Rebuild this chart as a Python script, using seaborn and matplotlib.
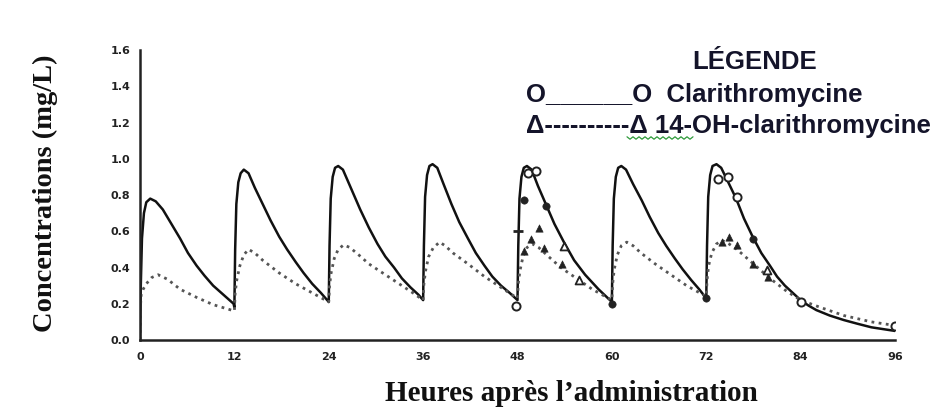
import numpy as np
import pandas as pd
import matplotlib
matplotlib.use("Agg")
import matplotlib.pyplot as plt
from matplotlib.lines import Line2D
import seaborn as sns

# ---- data ----
clar_t = [0.0, 0.1, 0.25, 0.5, 0.8, 1.3, 2.0, 2.9, 4.0, 5.1, 6.1, 7.2, 8.2, 9.3, 10.6, 11.9,
          12.0, 12.1, 12.25, 12.5, 12.8, 13.2, 13.8, 14.6, 15.6, 16.6, 17.7, 18.7, 19.8, 20.8, 21.9, 23.0, 24.0,
          24.1, 24.25, 24.5, 24.8, 25.2, 25.8, 26.9, 28.0, 29.1, 30.2, 31.2, 32.3, 33.3, 34.4, 35.4, 36.0,
          36.1, 36.25, 36.5, 36.8, 37.2, 37.8, 38.6, 39.6, 40.6, 41.7, 42.7, 43.8, 44.8, 45.9, 47.0, 48.0,
          48.1, 48.25, 48.5, 48.8, 49.2, 49.8, 50.6, 51.6, 52.7, 53.9, 55.2, 56.6, 58.3, 60.0,
          60.1, 60.25, 60.5, 60.8, 61.2, 61.8, 62.7, 63.8, 64.8, 65.9, 66.9, 68.0, 69.0, 70.1, 71.1, 72.0,
          72.1, 72.25, 72.5, 72.8, 73.3, 73.9, 74.8, 75.8, 76.8, 77.9, 79.0, 80.1, 81.0, 82.0, 83.0, 84.0,
          85.0, 86.0, 87.7, 89.5, 91.2, 93.0, 94.5, 96.0]
clar_c = [0.00, 0.30, 0.56, 0.70, 0.76, 0.78, 0.765, 0.72, 0.64, 0.56, 0.48, 0.41, 0.355, 0.30, 0.25, 0.20,
          0.18, 0.50, 0.75, 0.87, 0.92, 0.94, 0.92, 0.84, 0.75, 0.66, 0.57, 0.50, 0.43, 0.37, 0.31, 0.26, 0.21,
          0.52, 0.78, 0.90, 0.95, 0.96, 0.94, 0.83, 0.72, 0.62, 0.53, 0.46, 0.40, 0.34, 0.29, 0.25, 0.22,
          0.52, 0.79, 0.91, 0.96, 0.97, 0.95, 0.86, 0.75, 0.65, 0.56, 0.48, 0.41, 0.35, 0.30, 0.26, 0.22,
          0.52, 0.78, 0.90, 0.95, 0.96, 0.94, 0.85, 0.75, 0.64, 0.54, 0.44, 0.36, 0.28, 0.21,
          0.52, 0.78, 0.90, 0.95, 0.96, 0.94, 0.86, 0.77, 0.68, 0.59, 0.52, 0.45, 0.39, 0.33, 0.28, 0.23,
          0.52, 0.79, 0.91, 0.96, 0.97, 0.95, 0.87, 0.78, 0.67, 0.57, 0.48, 0.41, 0.35, 0.30, 0.26, 0.22,
          0.19, 0.165, 0.135, 0.11, 0.09, 0.07, 0.06, 0.05]

meta_t = [0.0, 0.05, 0.15, 0.4, 0.8, 1.5, 2.3, 3.5, 5.1, 7.2, 9.3, 12.0,
          12.1, 12.3, 12.7, 13.2, 13.8, 14.6, 15.6, 17.7, 19.8, 21.9, 24.0,
          24.1, 24.3, 24.7, 25.2, 25.9, 26.7, 27.8, 29.1, 31.2, 33.3, 34.7, 36.0,
          36.1, 36.3, 36.7, 37.3, 38.1, 38.8, 39.8, 41.7, 43.8, 45.9, 48.0,
          48.1, 48.3, 48.7, 49.2, 49.9, 50.7, 51.7, 53.5, 55.5, 57.5, 60.0,
          60.1, 60.3, 60.7, 61.2, 61.9, 62.7, 63.7, 65.5, 67.5, 69.5, 72.0,
          72.1, 72.3, 72.7, 73.3, 74.0, 74.9, 75.9, 78.0, 80.1, 82.2, 84.0, 86.5, 89.5, 93.0, 96.0]
meta_c = [0.00, 0.18, 0.25, 0.28, 0.31, 0.345, 0.36, 0.335, 0.28, 0.235, 0.195, 0.16,
          0.26, 0.33, 0.41, 0.47, 0.50, 0.48, 0.44, 0.37, 0.31, 0.26, 0.21,
          0.30, 0.37, 0.45, 0.50, 0.525, 0.51, 0.47, 0.42, 0.36, 0.30, 0.26, 0.22,
          0.31, 0.38, 0.46, 0.51, 0.54, 0.52, 0.48, 0.42, 0.35, 0.29, 0.23,
          0.31, 0.38, 0.46, 0.51, 0.53, 0.51, 0.47, 0.40, 0.34, 0.28, 0.22,
          0.31, 0.39, 0.47, 0.52, 0.54, 0.52, 0.48, 0.42, 0.36, 0.30, 0.24,
          0.33, 0.41, 0.48, 0.53, 0.55, 0.53, 0.50, 0.42, 0.34, 0.27, 0.22, 0.18, 0.135, 0.10, 0.08]

# observed points
obs_open_t = [47.8, 49.3, 50.4, 73.5, 74.8, 75.9, 84.0, 96.0]
obs_open_c = [0.185, 0.92, 0.93, 0.89, 0.90, 0.79, 0.21, 0.08]
obs_fill_t = [48.85, 51.6, 60.0, 72.0, 78.0]
obs_fill_c = [0.77, 0.74, 0.20, 0.23, 0.56]
met_fill_t = [48.85, 49.7, 50.7, 51.4, 53.7, 74.0, 74.9, 75.9, 78.0, 79.9]
met_fill_c = [0.49, 0.56, 0.62, 0.51, 0.42, 0.54, 0.57, 0.525, 0.42, 0.35]
met_open_t = [53.9, 55.8, 79.7]
met_open_c = [0.52, 0.33, 0.385]
dash_t = [48.0]
dash_c = [0.60]

xticks = [0, 12, 24, 36, 48, 60, 72, 84, 96]
yticks = [0.0, 0.2, 0.4, 0.6, 0.8, 1.0, 1.2, 1.4, 1.6]

# ---- plot ----
sns.set_style("white")
plt.rcParams['font.family'] = ['DejaVu Sans']

fig = plt.figure(figsize=(9.43, 4.19), dpi=100)
ax = fig.add_axes([140/943, 1-340/419, (895-140)/943, (340-50)/419])

df_clar = pd.DataFrame({"t": clar_t, "c": clar_c})
df_meta = pd.DataFrame({"t": meta_t, "c": meta_c})
sns.lineplot(data=df_clar, x="t", y="c", ax=ax, color="#111111", linewidth=1.8,
             estimator=None, sort=False)
sns.lineplot(data=df_meta, x="t", y="c", ax=ax, color="#555555", linewidth=2.0,
             linestyle=(0, (1.0, 1.6)), estimator=None, sort=False)

sns.scatterplot(x=obs_open_t, y=obs_open_c, ax=ax, marker="o", s=34,
                facecolor="white", edgecolor="#222222", linewidth=1.4, zorder=5)
sns.scatterplot(x=obs_fill_t, y=obs_fill_c, ax=ax, marker="o", s=28,
                color="#222222", edgecolor="#222222", zorder=5)
sns.scatterplot(x=met_fill_t, y=met_fill_c, ax=ax, marker="^", s=28,
                color="#222222", edgecolor="#222222", zorder=5)
sns.scatterplot(x=met_open_t, y=met_open_c, ax=ax, marker="^", s=32,
                facecolor="white", edgecolor="#222222", linewidth=1.3, zorder=5)
sns.scatterplot(x=dash_t, y=dash_c, ax=ax, marker="_", s=60,
                color="#222222", linewidth=2, zorder=5)

ax.set_xlim(0, 96)
ax.set_ylim(0, 1.6)
ax.set_xticks(xticks)
ax.set_xticklabels([str(v) for v in xticks])
ax.set_yticks(yticks)
ax.set_yticklabels([f"{v:.1f}" for v in yticks])
for lab in ax.get_xticklabels() + ax.get_yticklabels():
    lab.set_fontweight("bold")
    lab.set_fontsize(8)
    lab.set_color("#222222")
ax.tick_params(axis="x", direction="inout", length=6, width=1.2, pad=6, color="#222222")
ax.tick_params(axis="y", direction="out", length=4, width=1.2, pad=3, color="#222222")
sns.despine(ax=ax)
for sp in ("left", "bottom"):
    ax.spines[sp].set_linewidth(1.8)
    ax.spines[sp].set_color("#222222")
ax.set_xlabel("")
ax.set_ylabel("")

serif = ["Liberation Serif", "DejaVu Serif"]
fig.text(45/943, 1-193/419, "Concentrations (mg/L)", rotation=90, ha="center",
         va="center", fontsize=20.5, fontweight="bold", family=serif, color="#111111")
fig.text(571/943, 1-393/419, "Heures après l’administration", ha="center",
         va="center", fontsize=21, fontweight="bold", family=serif, color="#111111")

sans = ["Liberation Sans", "DejaVu Sans"]
lg_col = "#14142a"
fig.text(755/943, 1-62/419, "LÉGENDE", ha="center", va="center", fontsize=18.5,
         fontweight="bold", family=sans, color=lg_col)
fig.text(526/943, 1-95/419, "O______O  Clarithromycine", ha="left", va="center",
         fontsize=18.5, fontweight="bold", family=sans, color=lg_col)
fig.text(526/943, 1-126/419, "Δ----------Δ 14-OH-clarithromycine", ha="left",
         va="center", fontsize=18.5, fontweight="bold", family=sans, color=lg_col)

# spell-check squiggle under "Δ 14"
sx = np.linspace(627, 693, 23)
sy = 138 + np.where(np.arange(23) % 2 == 0, -1.2, 1.2)
fig.add_artist(Line2D(sx/943, 1-sy/419, color="#2e9a3a", linewidth=0.9,
                      transform=fig.transFigure))

fig.savefig("out.png", dpi=100, facecolor="white")
